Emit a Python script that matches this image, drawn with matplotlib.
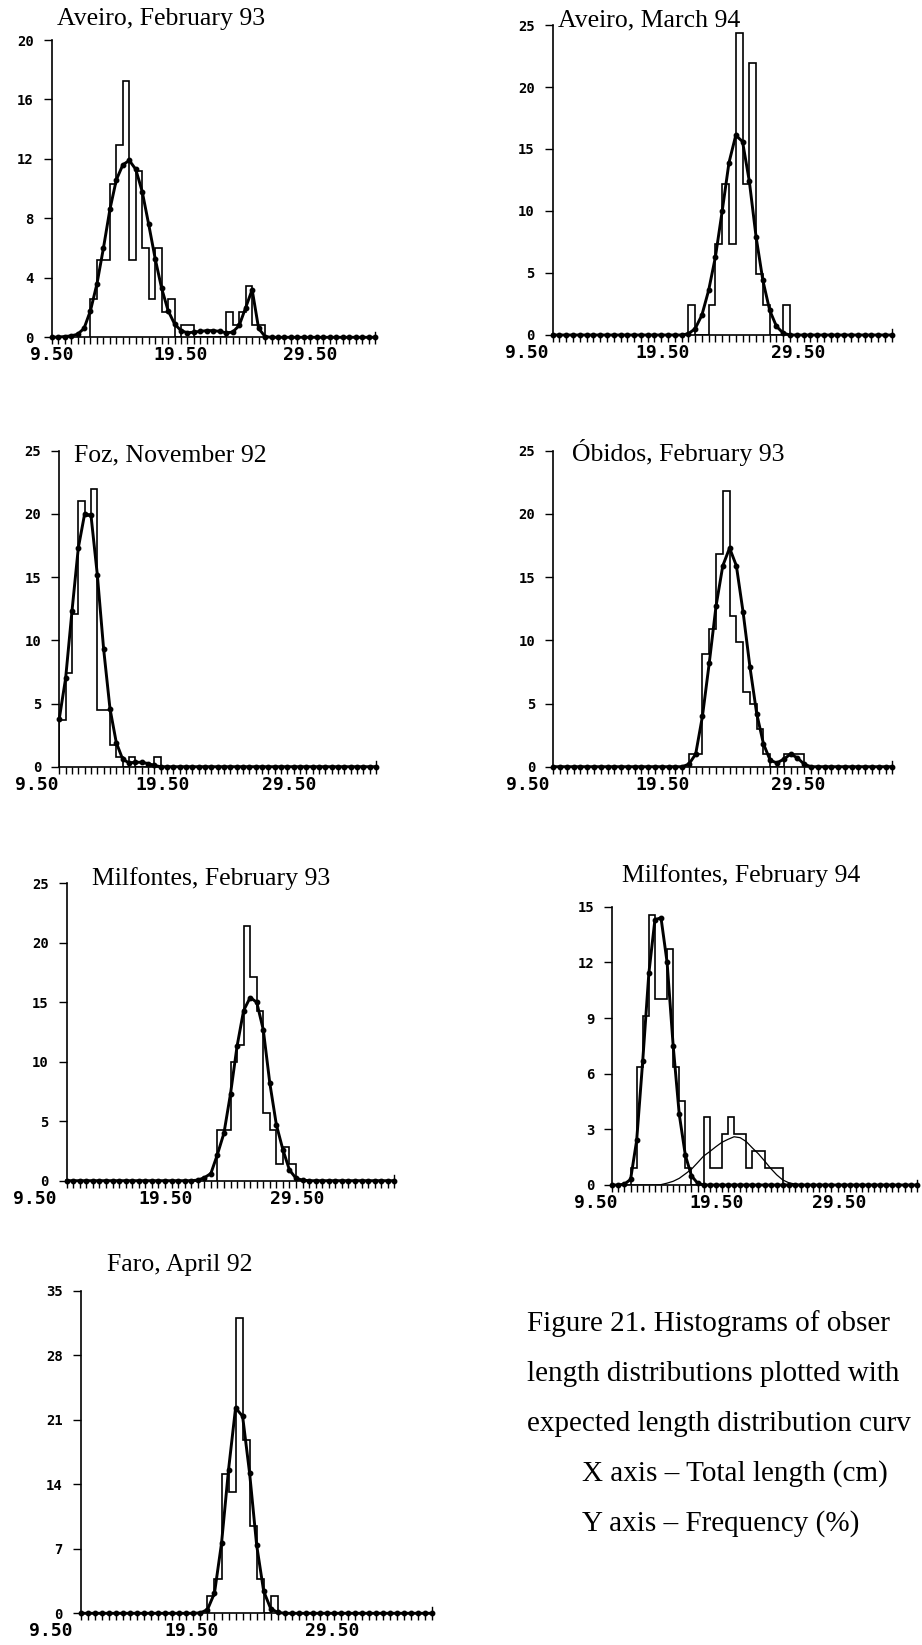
import numpy as np
import matplotlib
matplotlib.use("Agg")
import matplotlib.pyplot as plt
import matplotlib.transforms as mtrans

W, H = 922, 1645

plt.rcParams["font.family"] = "DejaVu Sans Mono"
plt.rcParams["font.weight"] = "bold"

# length classes of 0.5 cm, expected curves read at the same 0.5 cm steps
x_grid = np.arange(9.5, 34.51, 0.5)

# Aveiro, February 93
av93_start = 12.5
av93_freq = [2.59, 5.17, 5.17, 10.34, 12.93, 17.24, 5.17, 11.21, 6.03, 2.59, 6.03, 1.72, 2.59,
             0, 0.86, 0.86, 0, 0, 0, 0, 0, 1.72, 0.86, 1.72, 3.45, 0.86, 0.86]
av93_cstart = 10.0
av93_curve = [0.02, 0.05, 0.1, 0.2, 0.6, 1.8, 3.6, 6.0, 8.6, 10.6, 11.6, 11.9, 11.3, 9.8, 7.6,
              5.3, 3.3, 1.8, 0.9, 0.45, 0.3, 0.35, 0.4, 0.45, 0.45, 0.4, 0.3, 0.35, 0.8, 2.0,
              3.2, 0.6, 0.05]

# Aveiro, March 94
av94_start = 19.5
av94_freq = [2.44, 0, 0, 2.44, 7.32, 12.20, 7.32, 24.39, 12.20, 21.95, 4.88, 2.44, 0, 0, 2.44]
av94_cstart = 19.5
av94_curve = [0.1, 0.5, 1.6, 3.6, 6.3, 10.0, 13.9, 16.1, 15.6, 12.4, 7.9, 4.4, 2.0, 0.7, 0.15]

# Foz, November 92
foz_start = 9.5
foz_freq = [3.7, 7.4, 12.1, 21.0, 19.8, 22.0, 4.5, 4.5, 1.7, 0.8, 0, 0.8, 0, 0, 0, 0.8]
foz_cstart = 9.5
foz_curve = [3.8, 7.0, 12.3, 17.3, 20.0, 19.9, 15.2, 9.3, 4.6, 1.9, 0.6, 0.3, 0.35, 0.35,
             0.25, 0.1]

# Obidos, February 93
obi_start = 19.5
obi_freq = [1.0, 1.0, 8.9, 10.9, 16.8, 21.8, 11.9, 9.9, 5.9, 5.0, 3.0, 1.0, 0, 0, 1.0, 1.0, 1.0]
obi_cstart = 19.5
obi_curve = [0.2, 1.0, 4.0, 8.2, 12.7, 15.9, 17.3, 15.9, 12.2, 7.9, 4.2, 1.8, 0.5, 0.3, 0.6,
             1.0, 0.7, 0.2]

# Milfontes, February 93
mf93_start = 21.0
mf93_freq = [4.29, 4.29, 10.0, 11.43, 21.43, 17.14, 14.29, 5.71, 4.29, 1.43, 2.86, 1.43]
mf93_cstart = 19.5
mf93_curve = [0.05, 0.25, 0.6, 2.2, 4.0, 7.3, 11.3, 14.3, 15.4, 15.0, 12.7, 8.2, 4.7, 2.6,
              0.9, 0.2, 0.05]

# Milfontes, February 94 (two components)
mf94_start = 11.0
mf94_freq = [0.91, 6.36, 9.09, 14.55, 10.0, 10.0, 12.73, 6.36, 4.55, 0.91, 0, 0, 3.64, 0.91,
             0.91, 2.73, 3.64, 2.73, 2.73, 0.91, 1.82, 1.82, 0.91, 0.91, 0.91]
mf94_cstart = 10.5
mf94_curve = [0.05, 0.3, 2.4, 6.7, 11.4, 14.3, 14.4, 12.0, 7.5, 3.8, 1.6, 0.5, 0.1]
mf94_c2start = 13.5
mf94_curve2 = [0.02, 0.1, 0.2, 0.36, 0.6, 0.85, 1.2, 1.56, 1.8, 2.06, 2.3, 2.46, 2.6, 2.55,
               2.34, 2.0, 1.68, 1.3, 0.9, 0.55, 0.27, 0.12, 0.05, 0.02]

# Faro, April 92
faro_start = 18.5
faro_freq = [1.89, 3.77, 15.09, 13.21, 32.08, 18.87, 9.43, 3.77, 0, 1.89]
faro_cstart = 18.0
faro_curve = [0.05, 0.4, 2.2, 7.6, 15.6, 22.3, 21.4, 15.2, 7.4, 2.4, 0.5, 0.1]

# caption as far as it is visible on the page
caption = ["Figure 21. Histograms of obser",
           "length distributions plotted with",
           "expected length distribution curv"]
axis_notes = ["X axis \u2013 Total length (cm)", "Y axis \u2013 Frequency (%)"]


def full_curve(start, vals):
    y = np.zeros(len(x_grid))
    i = int(round((start - 9.5) / 0.5))
    y[i:i + len(vals)] = vals
    return y


# pixel boxes: axis left, axis right, top tick, zero line ; title left, title baseline
panels = [
    dict(title="Aveiro, February 93", start=av93_start, freq=av93_freq, cs=av93_cstart,
         curve=av93_curve, ytop=20, ystep=4, box=(51.7, 375, 40, 337.3), tpos=(57, 25), dx=0),
    dict(title="Aveiro, March 94", start=av94_start, freq=av94_freq, cs=av94_cstart,
         curve=av94_curve, ytop=25, ystep=5, box=(552.7, 891.7, 25, 335), tpos=(558, 26), dx=-26),
    dict(title="Foz, November 92", start=foz_start, freq=foz_freq, cs=foz_cstart,
         curve=foz_curve, ytop=25, ystep=5, box=(59.3, 376, 450.7, 766.7), tpos=(74, 461), dx=-23),
    dict(title="\u00d3bidos, February 93", start=obi_start, freq=obi_freq, cs=obi_cstart,
         curve=obi_curve, ytop=25, ystep=5, box=(553.3, 892.3, 450.7, 766.7), tpos=(572, 461),
         dx=-26),
    dict(title="Milfontes, February 93", start=mf93_start, freq=mf93_freq, cs=mf93_cstart,
         curve=mf93_curve, ytop=25, ystep=5, box=(66.7, 394.3, 883.3, 1180.7), tpos=(92, 885),
         dx=-32),
    dict(title="Milfontes, February 94", start=mf94_start, freq=mf94_freq, cs=mf94_cstart,
         curve=mf94_curve, ytop=15, ystep=3, box=(612.3, 916.7, 906.7, 1185), tpos=(622, 882),
         dx=-17),
    dict(title="Faro, April 92", start=faro_start, freq=faro_freq, cs=faro_cstart,
         curve=faro_curve, ytop=35, ystep=7, box=(81, 432.3, 1291, 1613.3), tpos=(107, 1271),
         dx=-30),
]

fig = plt.figure(figsize=(W / 100, H / 100), dpi=100)
fig.patch.set_facecolor("white")

for n, p in enumerate(panels):
    x0, x1, yt, yb = p["box"]
    ax = fig.add_axes([x0 / W, 1 - yb / H, (x1 - x0) / W, (yb - yt) / H])
    edges = p["start"] + 0.5 * np.arange(len(p["freq"]) + 1)
    ax.stairs(p["freq"], edges, color="k", lw=1.2, baseline=0)
    ax.plot(x_grid, full_curve(p["cs"], p["curve"]), color="k", lw=2.1,
            marker="o", ms=3.2, clip_on=False, zorder=3)
    if n == 5:
        ax.plot(x_grid, full_curve(mf94_c2start, mf94_curve2), color="k", lw=0.9, zorder=3)

    ax.set_xlim(9.5, 34.5)
    ax.set_ylim(0, p["ytop"])
    for s in ["top", "right"]:
        ax.spines[s].set_visible(False)
    for s in ["left", "bottom"]:
        ax.spines[s].set_linewidth(1.2)

    ax.set_xticks([9.5, 19.5, 29.5])
    ax.set_xticklabels(["9.50", "19.50", "29.50"])
    ax.set_xticks(x_grid, minor=True)
    ax.tick_params(axis="x", which="both", direction="out", length=5, width=1.0, pad=1.5,
                   labelsize=13)
    ax.set_yticks(np.arange(0, p["ytop"] + 1, p["ystep"]))
    ax.tick_params(axis="y", direction="out", length=6, width=1.0, pad=7, labelsize=10)
    ax.plot([1, 1], [0, 0.018], transform=ax.transAxes, color="k", lw=1.0, clip_on=False)
    ax.patch.set_alpha(0)

    # the old plotter sets the length labels a little left of their ticks
    shift = mtrans.ScaledTranslation(p["dx"] / 100, 0, fig.dpi_scale_trans)
    for t in ax.xaxis.get_major_ticks():
        t.label1.set_transform(t.label1.get_transform() + shift)

    tx, tb = p["tpos"]
    fig.text(tx / W, 1 - tb / H, p["title"], ha="left", va="baseline", fontsize=18.5,
             family="Liberation Serif", weight="normal")

for i, line in enumerate(caption):
    fig.text(526.7 / W, 1 - (1331 + 50 * i) / H, line, ha="left", va="baseline",
             fontsize=21, family="Liberation Serif", weight="normal")
for i, line in enumerate(axis_notes):
    fig.text(581.7 / W, 1 - (1481 + 50 * i) / H, line, ha="left", va="baseline",
             fontsize=21, family="Liberation Serif", weight="normal")

fig.savefig("out.png", dpi=100)
